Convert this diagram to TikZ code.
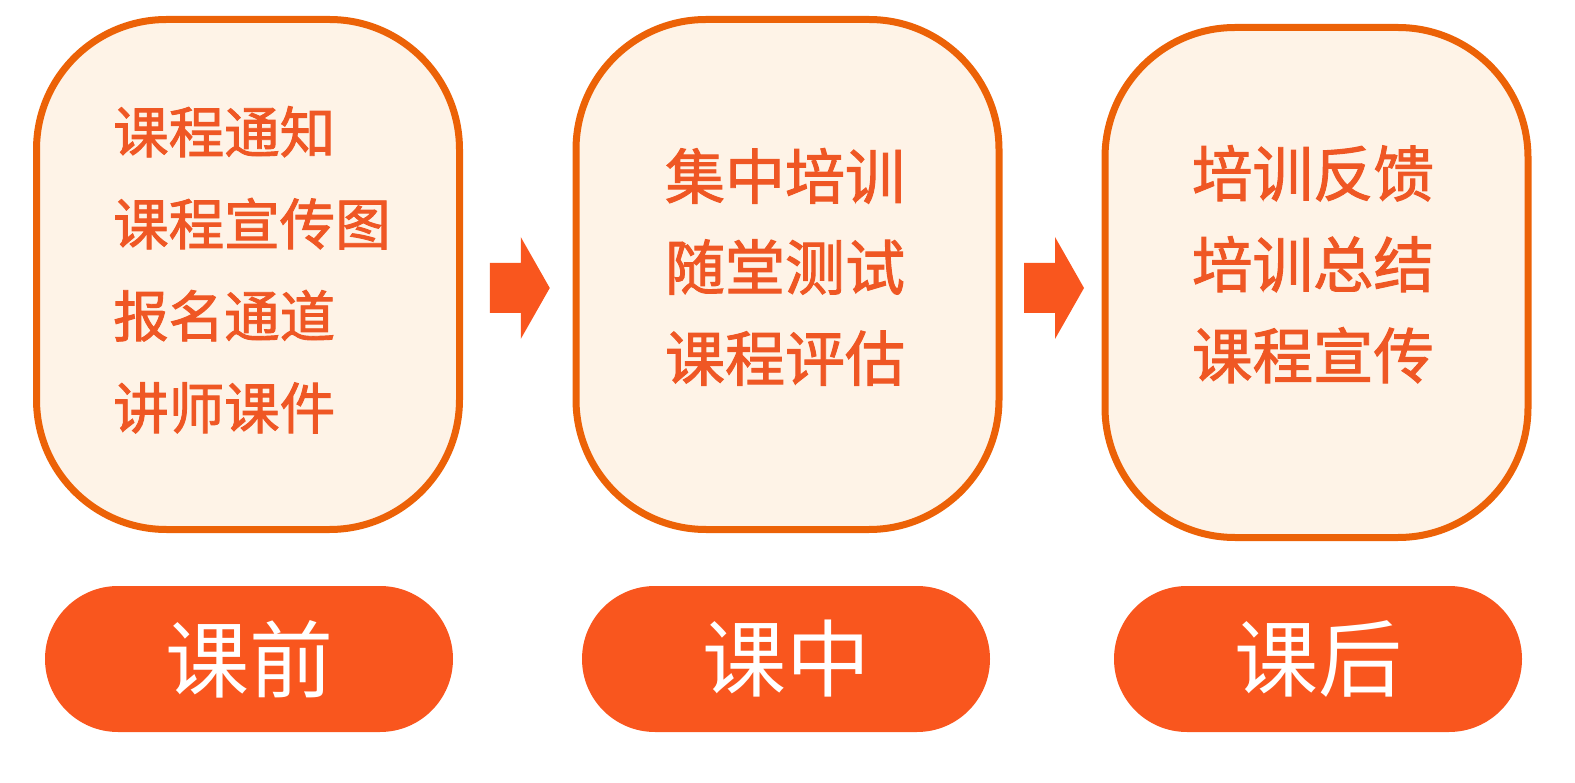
\documentclass[tikz,border=0pt]{standalone}
\usepackage{fontspec}
\newfontfamily\cjk{Noto Sans CJK SC}[FakeBold=1.6]
\newfontfamily\cjktag{Noto Sans CJK SC}
\usetikzlibrary{calc,positioning}
\definecolor{rimc}{HTML}{EC6207}
\definecolor{panec}{HTML}{FEF3E7}
\definecolor{inkc}{HTML}{EF5724}
\definecolor{pillc}{HTML}{F9561E}
\tikzset{
  stage/.style={draw=rimc,line width=7pt,fill=panec,rounded corners=130pt,
    minimum width=423pt,minimum height=510pt,inner sep=0pt},
  items/.style={inner sep=0pt,text=inkc,font=\cjk\fontsize{55.5}{92}\selectfont},
  pill/.style={fill=pillc,rounded corners=73pt,minimum width=408pt,
    minimum height=146pt,inner sep=0pt,text=white,font=\cjktag\fontsize{84}{90}\selectfont},
  flow/.style={fill=pillc}
}
\begin{document}
\begin{tikzpicture}[x=1pt,y=-1pt]
\useasboundingbox (0,0) rectangle (1575,783);
\node[stage](pre)at(248,274.5){};
\node[stage](mid)at(787.5,274.5){};
\node[stage](post)at(1316.5,282.5){};
\node[items,anchor=north west,align=left](preTxt)at(113,106){课程通知\\课程宣传图\\报名通道\\讲师课件};
\node[items,anchor=north,align=center,font=\cjk\fontsize{60}{91}\selectfont](midTxt)at(785,148){集中培训\\随堂测试\\课程评估};
\node[items,anchor=north,align=center,font=\cjk\fontsize{60.5}{91}\selectfont](postTxt)at(1313,145){培训反馈\\培训总结\\课程宣传};
\node[pill](preTag)at(249,659){课前};
\node[pill](midTag)at(786,659){课中};
\node[pill](postTag)at(1318,659){课后};
%arrows between the stages
\coordinate(a1)at($(pre.east)!0.5!(mid.west)+(0,13.5)$);
\coordinate(a2)at($(mid.east)!0.5!(post.west)+(0,9.5)$);
\foreach \a in {a1,a2}
  \fill[flow]([shift={(-28,-25)}]\a)--([shift={(3,-25)}]\a)--([shift={(3,-51)}]\a)
    --([shift={(32,0)}]\a)--([shift={(3,51)}]\a)--([shift={(3,25)}]\a)--([shift={(-28,25)}]\a)--cycle;
\end{tikzpicture}
\end{document}
